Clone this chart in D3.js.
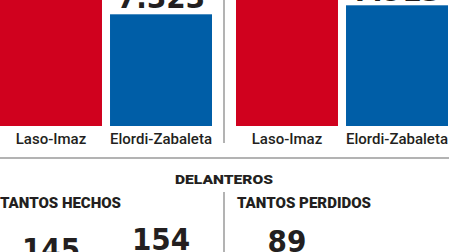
<!DOCTYPE html>
<html>
<head>
<meta charset="utf-8">
<script src="https://cdn.jsdelivr.net/npm/d3@7"></script>
<style>
  body { margin: 0; background: #fff; overflow: hidden; }
  svg { display: block; }
</style>
</head>
<body>
<div id="chart"></div>
<script>
'use strict';

// parejas
var teams = ['Laso-Imaz', 'Elordi-Zabaleta'];
// arriba (cifras cortadas por el recorte)
var topLeftValues = [8640, 7323];
var topRightValues = [8810, 7913];
// delanteros
var sectionTitle = 'DELANTEROS';
var panelTitles = ['TANTOS HECHOS', 'TANTOS PERDIDOS'];
var tantosHechos = [145, 154];
var tantosPerdidos = [89, 76];

var width = 449;
var height = 252;
var colors = ['#d0011e', '#005ea7'];
var ink = '#231f20';
var lineColor = '#9a9a9a';
var numFont = "'Liberation Sans Narrow', 'DejaVu Sans Condensed', Roboto, sans-serif";

var es = d3.formatLocale({decimal: ',', thousands: '.', grouping: [3], currency: ['', '€']});
var fmt = es.format(',d');

var svg = d3.select('#chart').append('svg')
    .attr('width', width)
    .attr('height', height);

var x = d3.scaleBand()
    .domain(teams)
    .range([0, 212])
    .paddingInner(0.073)
    .paddingOuter(0);

var yTop = d3.scaleLinear().domain([0, 7323]).range([126, 14.3]);
var yHechos = d3.scaleLinear().domain([0, 160]).range([425, 247.3]);
var yPerdidos = d3.scaleLinear().domain([0, 100]).range([523, 223]);

var drawBars = function(g, values, y, withNames, gap) {
    var data = teams.map(function(t, i) { return {team: t, value: values[i], i: i}; });

    g.selectAll('rect')
        .data(data)
        .enter().append('rect')
        .attr('x', function(d) { return x(d.team); })
        .attr('y', function(d) { return y(d.value); })
        .attr('width', x.bandwidth())
        .attr('height', function(d) { return y(0) - y(d.value); })
        .attr('fill', function(d) { return colors[d.i]; });

    g.selectAll('text.value')
        .data(data)
        .enter().append('text')
        .attr('class', 'value')
        .attr('x', function(d) { return x(d.team) + x.bandwidth() / 2; })
        .attr('y', function(d) { return y(d.value) - gap; })
        .attr('text-anchor', 'middle')
        .style('font-family', numFont)
        .style('font-weight', 700)
        .style('font-size', '31px')
        .style('fill', ink)
        .text(function(d) { return fmt(d.value); });

    if (withNames) {
        g.selectAll('text.name')
            .data(data)
            .enter().append('text')
            .attr('class', 'name')
            .attr('x', function(d) { return x(d.team) + x.bandwidth() / 2; })
            .attr('y', 143.5)
            .attr('text-anchor', 'middle')
            .style('font-family', 'Roboto, sans-serif')
            .style('font-weight', 500)
            .style('font-size', '15px')
            .style('fill', ink)
            .text(function(d) { return d.team; });
    }
};

// bloque superior
var topLeft = svg.append('g');
var topRight = svg.append('g').attr('transform', 'translate(236,0)');
drawBars(topLeft, topLeftValues, yTop, true, 6.5);
drawBars(topRight, topRightValues, yTop, true, 4);

// lineas
svg.append('line')
    .attr('x1', 224).attr('x2', 224).attr('y1', 0).attr('y2', 143)
    .style('stroke', lineColor).style('stroke-width', 1.5);
svg.append('line')
    .attr('x1', 0).attr('x2', width).attr('y1', 158).attr('y2', 158)
    .style('stroke', lineColor).style('stroke-width', 1.5);
svg.append('line')
    .attr('x1', 224).attr('x2', 224).attr('y1', 192).attr('y2', height)
    .style('stroke', lineColor).style('stroke-width', 1.5);

// delanteros
svg.append('text')
    .attr('x', 224)
    .attr('y', 183.5)
    .attr('text-anchor', 'middle')
    .attr('textLength', 98)
    .attr('lengthAdjust', 'spacingAndGlyphs')
    .style('font-family', 'Roboto, sans-serif')
    .style('font-weight', 900)
    .style('font-size', '12.5px')
    .style('fill', ink)
    .text(sectionTitle);

var bottomLeft = svg.append('g');
var bottomRight = svg.append('g').attr('transform', 'translate(236,0)');

[bottomLeft, bottomRight].forEach(function(g, i) {
    g.append('text')
        .attr('x', i === 0 ? 0 : 1)
        .attr('y', 207.5)
        .attr('textLength', i === 0 ? 121 : 134)
        .attr('lengthAdjust', 'spacingAndGlyphs')
        .style('font-family', 'Roboto, sans-serif')
        .style('font-weight', 900)
        .style('font-size', '14px')
        .style('fill', ink)
        .text(panelTitles[i]);
});

drawBars(bottomLeft, tantosHechos, yHechos, false, 4);
drawBars(bottomRight, tantosPerdidos, yPerdidos, false, 4);
</script>
</body>
</html>
